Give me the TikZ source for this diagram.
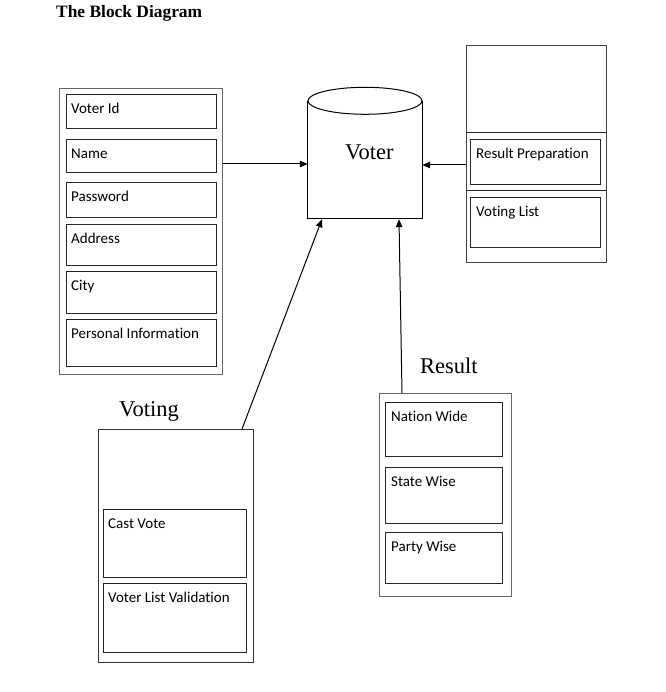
\documentclass[tikz,border=0pt]{standalone}
\usepackage{fontspec}
\setmainfont{Liberation Serif}
\newfontfamily\calibri[Ligatures=NoCommon]{Carlito}
\usetikzlibrary{positioning, arrows.meta}

\begin{document}
\begin{tikzpicture}[
  x=1pt, y=-1pt,
  every node/.style={font=\calibri\fontsize{15}{18}\selectfont},
  panel/.style={
    draw=black!60, line width=1pt,
    anchor=north west, inner sep=0,
  },
  field/.style={
    draw=black!85, line width=1pt,
    anchor=north west, inner sep=0,
    minimum width=#1,
  },
  tag/.style={anchor=base west, inner sep=0, xshift=5pt, yshift=-19.5pt},
  heading/.style={anchor=base west, inner sep=0,
    font=\rmfamily\fontsize{22.5}{26}\selectfont},
  arr/.style={-{Triangle[length=8pt, width=6.5pt]}, line width=1pt, draw=black},
]
  \useasboundingbox (0,0) rectangle (665,692);

  \node[anchor=base west, inner sep=0, font=\rmfamily\bfseries\fontsize{17.4}{20}\selectfont]
    (title) at (56,18) {The Block Diagram};

  % registration panel
  \node[panel, minimum width=163, minimum height=286] (reg) at (59,88) {};
  \node[field=150, minimum height=34, label={[tag]north west:Voter Id}]             (vid)   at (66,94)  {};
  \node[field=150, minimum height=33, label={[tag]north west:Name}]                 (name)  at (66,139) {};
  \node[field=150, minimum height=35, label={[tag]north west:Password}]             (pass)  at (66,182) {};
  \node[field=150, minimum height=41, label={[tag]north west:Address}]              (addr)  at (66,224) {};
  \node[field=150, minimum height=42, label={[tag]north west:City}]                 (city)  at (66,271) {};
  \node[field=150, minimum height=47, label={[tag]north west:Personal Information}] (pinfo) at (66,319) {};

  % database
  \node[minimum width=114, minimum height=117, inner sep=0] (voter) at (365,159.5) {};
  \draw[line width=1pt] (voter.north west) -- (voter.south west)
    -- (voter.south east) -- (voter.north east);
  \draw[line width=1pt] (voter.north) ellipse [x radius=57, y radius=13.5];
  \node[heading] (voterlbl) at (345,160) {Voter};

  % admin panel
  \node[panel, draw=black!75, minimum width=140, minimum height=217] (admin) at (466,45) {};
  \draw[line width=1pt, black!85] (admin.west |- 0,133) -- (admin.east |- 0,133);
  \draw[line width=1pt, black!85] (admin.west |- 0,191) -- (admin.east |- 0,191);
  \node[field=130, minimum height=45, label={[tag, xshift=1pt]north west:Result Preparation}] (prep)  at (470,139) {};
  \node[field=130, minimum height=50, label={[tag, xshift=1pt]north west:Voting List}]        (vlist) at (470,197) {};

  % voting panel
  \node[heading] (votinglbl) at (119,416) {Voting};
  \node[panel, draw=black!80, minimum width=155, minimum height=233] (voting) at (98,429) {};
  \node[field=143, minimum height=68, label={[tag]north west:Cast Vote}]             (cast)  at (103,509) {};
  \node[field=143, minimum height=69, label={[tag]north west:Voter List Validation}] (valid) at (103,583) {};

  % result panel
  \node[heading] (resultlbl) at (420,373) {Result};
  \node[panel, minimum width=132, minimum height=203] (result) at (379,393) {};
  \node[field=117, minimum height=54, label={[tag, xshift=1pt]north west:Nation Wide}] (nation) at (385,402) {};
  \node[field=117, minimum height=56, label={[tag, xshift=1pt]north west:State Wise}]  (state)  at (385,467) {};
  \node[field=117, minimum height=51, label={[tag, xshift=1pt]north west:Party Wise}]  (party)  at (385,532) {};

  \draw[arr] (reg.east |- 0,164)   -- (voter.west |- 0,164);
  \draw[arr] (admin.west |- 0,165) -- (voter.east |- 0,165);
  \draw[arr] ([xshift=144pt]voting.north west) -- ([xshift=-43pt, yshift=-1pt]voter.south);
  \draw[arr] ([xshift=23pt]result.north west)  -- ([xshift=34pt, yshift=-1pt]voter.south);
\end{tikzpicture}
\end{document}
